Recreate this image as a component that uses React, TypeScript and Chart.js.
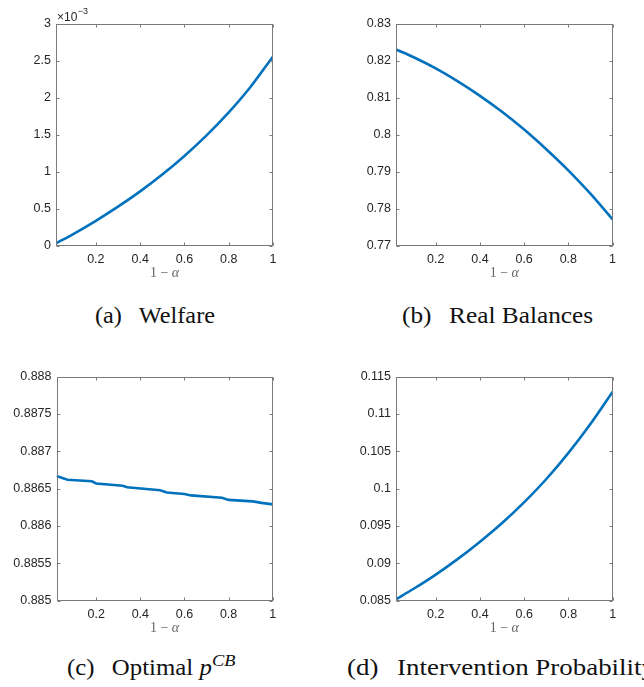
import React, { useEffect, useRef } from "react";
import { Chart, registerables } from "chart.js";

Chart.register(...registerables);

// ---------- data ----------
const xSmooth = [0.02, 0.1, 0.2, 0.3, 0.4, 0.5, 0.6, 0.7, 0.8, 0.9, 1.0];

const welfare = [0.000035, 0.000165, 0.00034, 0.00053, 0.000737, 0.000964, 0.001214, 0.001491, 0.001801, 0.002151, 0.002556];

const realBalances = [0.823, 0.8209, 0.8179, 0.8144, 0.8105, 0.8062, 0.8014, 0.7961, 0.7904, 0.7841, 0.7772];

const xPcb = [0.02, 0.05, 0.07, 0.18, 0.2, 0.32, 0.34, 0.49, 0.52, 0.6, 0.63, 0.77, 0.8, 0.91, 0.95, 1.0];
const optimalPcb = [0.88667, 0.88664, 0.88662, 0.8866, 0.88657, 0.88654, 0.88652, 0.88648, 0.88645, 0.88643, 0.88641, 0.88638, 0.88635, 0.88633, 0.88631, 0.88629];

const interventionProb = [0.0852, 0.0866, 0.0885, 0.0906, 0.0929, 0.0954, 0.0982, 0.1013, 0.1048, 0.1087, 0.113];

const xTicks = [0.2, 0.4, 0.6, 0.8, 1];
const xTickLabels = ["0.2", "0.4", "0.6", "0.8", "1"];

const welfareTicks = [0, 0.0005, 0.001, 0.0015, 0.002, 0.0025, 0.003];
const welfareTickLabels = ["0", "0.5", "1", "1.5", "2", "2.5", "3"];

const balanceTicks = [0.77, 0.78, 0.79, 0.8, 0.81, 0.82, 0.83];
const balanceTickLabels = ["0.77", "0.78", "0.79", "0.8", "0.81", "0.82", "0.83"];

const pcbTicks = [0.885, 0.8855, 0.886, 0.8865, 0.887, 0.8875, 0.888];
const pcbTickLabels = ["0.885", "0.8855", "0.886", "0.8865", "0.887", "0.8875", "0.888"];

const probTicks = [0.085, 0.09, 0.095, 0.1, 0.105, 0.11, 0.115];
const probTickLabels = ["0.085", "0.09", "0.095", "0.1", "0.105", "0.11", "0.115"];

// ---------- style ----------
const LINE_COLOR = "#0072BD";
const AXIS_COLOR = "#7a7a7a";
const TICK_TEXT = "#262626";
const TICK_FONT = { family: "'Liberation Sans', Arial, sans-serif", size: 12.5 };

type PanelSpec = {
  xs: number[];
  ys: number[];
  yTicks: number[];
  yLabels: string[];
  yMin: number;
  yMax: number;
  smooth: boolean;
  exponent?: string;
  left: number;
  top: number;
  w: number;
  h: number;
  yW: number;
  padR: number;
  padT: number;
  xH: number;
};

const boxPlugin = {
  id: "matlabBox",
  afterDraw(chart: any, _args: any, opts: any) {
    const { ctx, chartArea: a, scales } = chart;
    ctx.save();
    ctx.strokeStyle = AXIS_COLOR;
    ctx.lineWidth = 1;
    const L = Math.round(a.left) + 0.5;
    const R = Math.round(a.right) - 0.5;
    const T = Math.round(a.top) + 0.5;
    const B = Math.round(a.bottom) - 0.5;
    ctx.strokeRect(L, T, R - L, B - T);
    const tl = 3;
    ctx.beginPath();
    scales.x.ticks.forEach((t: any) => {
      const px = Math.round(scales.x.getPixelForValue(t.value)) + 0.5;
      ctx.moveTo(px, B);
      ctx.lineTo(px, B - tl);
      ctx.moveTo(px, T);
      ctx.lineTo(px, T + tl);
    });
    scales.y.ticks.forEach((t: any) => {
      const py = Math.round(scales.y.getPixelForValue(t.value)) + 0.5;
      ctx.moveTo(L, py);
      ctx.lineTo(L + tl, py);
      ctx.moveTo(R, py);
      ctx.lineTo(R - tl, py);
    });
    ctx.stroke();

    // x axis title "1 − α"
    ctx.fillStyle = "#666";
    ctx.textBaseline = "alphabetic";
    const cx = (a.left + a.right) / 2;
    const by = a.bottom + 31;
    ctx.font = "14px 'Liberation Serif', serif";
    const part1 = "1 \u2212 ";
    const w1 = ctx.measureText(part1).width;
    ctx.font = "italic 14px 'Liberation Serif', serif";
    const w2 = ctx.measureText("\u03b1").width;
    const sx = cx - (w1 + w2) / 2;
    ctx.font = "14px 'Liberation Serif', serif";
    ctx.fillText(part1, sx, by);
    ctx.font = "italic 14px 'Liberation Serif', serif";
    ctx.fillText("\u03b1", sx + w1, by);

    if (opts && opts.exponent) {
      ctx.fillStyle = TICK_TEXT;
      ctx.font = "12px 'Liberation Sans', Arial, sans-serif";
      const base = "\u00d710";
      ctx.fillText(base, a.left + 1, a.top - 3);
      const bw = ctx.measureText(base).width;
      ctx.font = "9px 'Liberation Sans', Arial, sans-serif";
      ctx.fillText(opts.exponent, a.left + 1 + bw + 0.5, a.top - 10);
    }
    ctx.restore();
  },
};

function Panel({ spec }: { spec: PanelSpec }) {
  const ref = useRef<HTMLCanvasElement | null>(null);
  useEffect(() => {
    if (!ref.current) return;
    const points = spec.xs.map((x, i) => ({ x, y: spec.ys[i] }));
    const chart = new Chart(ref.current, {
      type: "line",
      data: {
        datasets: [
          {
            data: points,
            borderColor: LINE_COLOR,
            borderWidth: 2.6,
            pointRadius: 0,
            fill: false,
            tension: spec.smooth ? 0.4 : 0,
            cubicInterpolationMode: spec.smooth ? "monotone" : "default",
          } as any,
        ],
      },
      options: {
        animation: false,
        responsive: false,
        events: [],
        layout: { padding: { left: 0, top: spec.padT, right: spec.padR, bottom: 0 } },
        plugins: {
          legend: { display: false },
          tooltip: { enabled: false },
          matlabBox: { exponent: spec.exponent },
        } as any,
        scales: {
          x: {
            type: "linear",
            min: 0.02,
            max: 1,
            grid: { display: false, drawTicks: false },
            border: { display: false },
            ticks: {
              font: TICK_FONT,
              color: TICK_TEXT,
              padding: 6,
              maxRotation: 0,
              autoSkip: false,
              callback: (v: any) => {
                const i = xTicks.indexOf(Number(v));
                return i >= 0 ? xTickLabels[i] : "";
              },
            },
            afterBuildTicks: (s: any) => {
              s.ticks = xTicks.map((v) => ({ value: v }));
            },
            afterFit: (s: any) => {
              s.height = spec.xH;
            },
          },
          y: {
            type: "linear",
            min: spec.yMin,
            max: spec.yMax,
            grid: { display: false, drawTicks: false },
            border: { display: false },
            ticks: {
              font: TICK_FONT,
              color: TICK_TEXT,
              padding: 5,
              autoSkip: false,
              callback: (v: any) => {
                const n = Number(v);
                let best = "";
                spec.yTicks.forEach((t, i) => {
                  if (Math.abs(t - n) < 1e-9) best = spec.yLabels[i];
                });
                return best;
              },
            },
            afterBuildTicks: (s: any) => {
              s.ticks = spec.yTicks.map((v) => ({ value: v }));
            },
            afterFit: (s: any) => {
              s.width = spec.yW;
            },
          },
        },
      } as any,
      plugins: [boxPlugin],
    });
    return () => chart.destroy();
  }, [spec]);
  return (
    <canvas
      ref={ref}
      width={spec.w}
      height={spec.h}
      style={{ position: "absolute", left: spec.left, top: spec.top, width: spec.w, height: spec.h }}
    />
  );
}

const panels: PanelSpec[] = [
  {
    xs: xSmooth, ys: welfare, yTicks: welfareTicks, yLabels: welfareTickLabels,
    yMin: 0, yMax: 0.003, smooth: true, exponent: "\u22123",
    left: 0, top: 0, w: 322, h: 290, yW: 56, padR: 49, padT: 23.5, xH: 44,
  },
  {
    xs: xSmooth, ys: realBalances, yTicks: balanceTicks, yLabels: balanceTickLabels,
    yMin: 0.77, yMax: 0.83, smooth: true,
    left: 322, top: 0, w: 322, h: 290, yW: 74, padR: 31.5, padT: 23.5, xH: 44,
  },
  {
    xs: xPcb, ys: optimalPcb, yTicks: pcbTicks, yLabels: pcbTickLabels,
    yMin: 0.885, yMax: 0.888, smooth: false,
    left: 0, top: 353, w: 322, h: 290, yW: 56.5, padR: 49.3, padT: 23.7, xH: 42.3,
  },
  {
    xs: xSmooth, ys: interventionProb, yTicks: probTicks, yLabels: probTickLabels,
    yMin: 0.085, yMax: 0.115, smooth: true,
    left: 322, top: 353, w: 322, h: 290, yW: 74, padR: 31.3, padT: 23.7, xH: 42.3,
  },
];

const capStyle: React.CSSProperties = {
  position: "absolute",
  fontFamily: "'Liberation Serif', 'Times New Roman', serif",
  fontSize: 23,
  lineHeight: "23px",
  color: "#111",
  whiteSpace: "nowrap",
  transformOrigin: "left top",
};

export default function App() {
  useEffect(() => {
    document.body.style.margin = "0";
    document.body.style.overflow = "hidden";
  }, []);
  return (
    <div style={{ position: "relative", width: 644, height: 687, overflow: "hidden", background: "#fff" }}>
      {panels.map((p, i) => (
        <Panel key={i} spec={p} />
      ))}
      <div style={{ ...capStyle, left: 95, top: 303.5, transform: "scaleX(1.055)" }}>
        (a)<span style={{ marginLeft: 16 }}>Welfare</span>
      </div>
      <div style={{ ...capStyle, left: 402, top: 303.5, transform: "scaleX(1.1)" }}>
        (b)<span style={{ marginLeft: 16 }}>Real Balances</span>
      </div>
      <div style={{ ...capStyle, left: 67, top: 656, transform: "scaleX(1.08)" }}>
        (c)<span style={{ marginLeft: 16 }}>Optimal </span>
        <i>p</i>
        <span style={{ fontSize: 17, position: "relative", top: -9, lineHeight: 0 }}>
          <i>CB</i>
        </span>
      </div>
      <div style={{ ...capStyle, left: 347, top: 656, transform: "scaleX(1.17)" }}>
        (d)<span style={{ marginLeft: 16 }}>Intervention Probability</span>
      </div>
    </div>
  );
}
